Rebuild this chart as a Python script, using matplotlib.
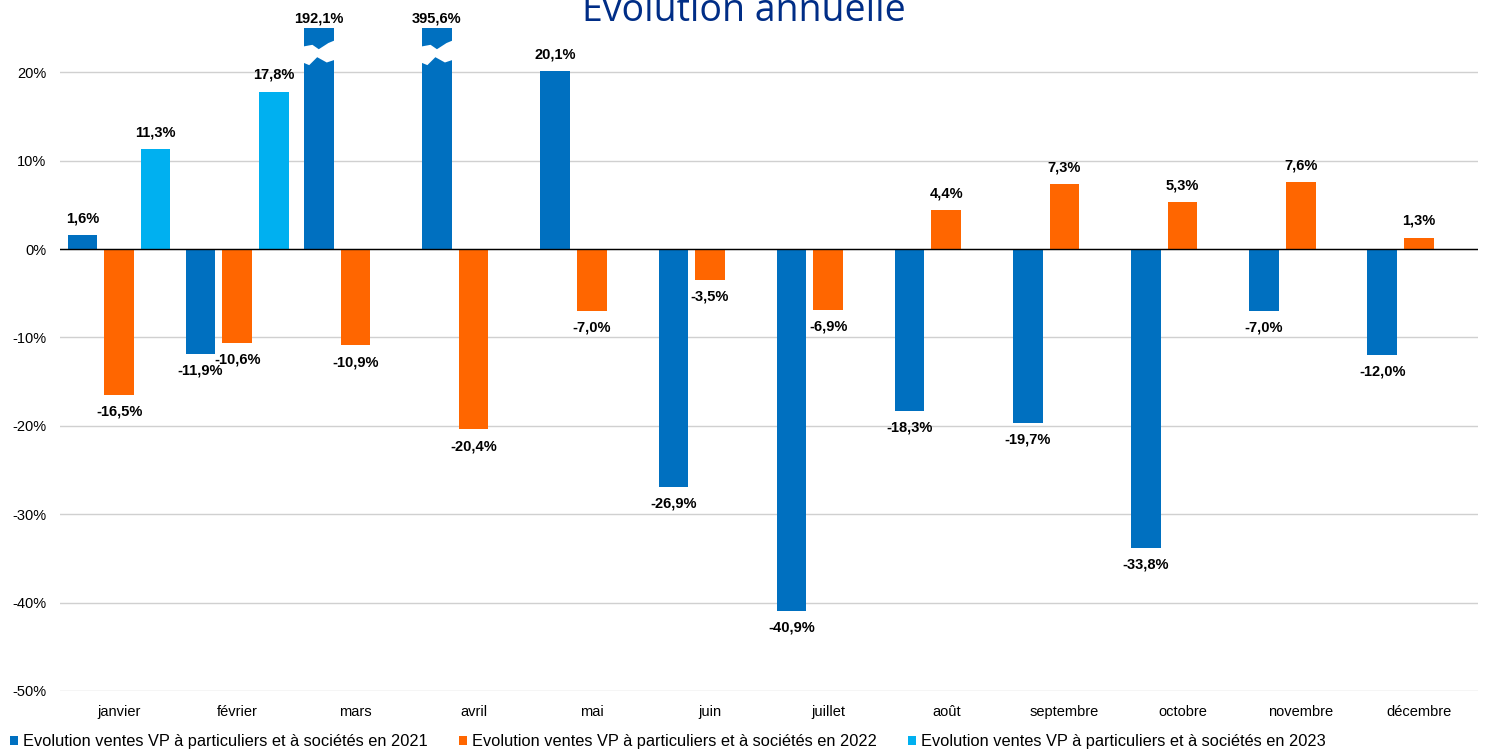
import numpy as np
import matplotlib.pyplot as plt

# données
mois = ['janvier', 'février', 'mars', 'avril', 'mai', 'juin', 'juillet',
        'août', 'septembre', 'octobre', 'novembre', 'décembre']
evol_2021 = [1.6, -11.9, 192.1, 395.6, 20.1, -26.9, -40.9, -18.3, -19.7, -33.8, -7.0, -12.0]
evol_2022 = [-16.5, -10.6, -10.9, -20.4, -7.0, -3.5, -6.9, 4.4, 7.3, 5.3, 7.6, 1.3]
evol_2023 = [11.3, 17.8]
noms = ['Evolution ventes VP à particuliers et à sociétés en 2021',
        'Evolution ventes VP à particuliers et à sociétés en 2022',
        'Evolution ventes VP à particuliers et à sociétés en 2023']
couleurs = ['#0070C0', '#FF6600', '#00B0F0']

plt.rcParams['font.family'] = ['Liberation Sans Narrow', 'Liberation Sans', 'DejaVu Sans']

YMAX = 25
w = 0.25
dx = 0.31

fig = plt.figure(figsize=(14.89, 7.51), dpi=100)
ax = fig.add_axes([0.0403, 0.0799, 0.9523, 0.8828])

x = np.arange(len(mois))
series = [evol_2021, evol_2022, evol_2023]
for k, (vals, c, nom) in enumerate(zip(series, couleurs, noms)):
    xs = x[:len(vals)] + (k - 1) * dx
    vals = np.array(vals)
    ax.bar(xs, np.minimum(vals, YMAX), width=w, color=c, label=nom, zorder=3)
    for xi, v in zip(xs, vals):
        txt = ('%.1f%%' % v).replace('.', ',')
        if v > YMAX:
            ax.text(xi, YMAX + 0.3, txt, ha='center', va='bottom',
                    fontsize=10.5, fontweight='bold', family=['Liberation Sans', 'DejaVu Sans'],
                    clip_on=False)
        elif v >= 0:
            ax.text(xi, v + 1.1, txt, ha='center', va='bottom',
                    fontsize=10.5, fontweight='bold', family=['Liberation Sans', 'DejaVu Sans'],
                    clip_on=False)
        else:
            ax.text(xi, v - 1.1, txt, ha='center', va='top',
                    fontsize=10.5, fontweight='bold', family=['Liberation Sans', 'DejaVu Sans'])
        # coupure pour les barres hors échelle
        if v > YMAX:
            x0 = xi - w / 2 - 0.01
            x1 = xi + w / 2 + 0.01
            ww = x1 - x0
            top = [(x0, 22.9), (x0 + 0.3 * ww, 23.1), (x0 + 0.5 * ww, 22.6),
                   (x0 + 0.8 * ww, 23.3), (x1, 23.6)]
            bot = [(x1, 21.4), (x0 + 0.75 * ww, 21.1), (x0 + 0.45 * ww, 21.7),
                   (x0 + 0.2 * ww, 20.8), (x0, 21.1)]
            pts = np.array(top + bot)
            ax.fill(pts[:, 0], pts[:, 1], color='white', zorder=4, lw=0)

ax.set_xlim(-0.5, len(mois) - 0.5)
ax.set_ylim(-50, YMAX)
ax.set_yticks(np.arange(-50, 21, 10))
ax.set_yticklabels(['%d%%' % t for t in np.arange(-50, 21, 10)], fontsize=10.5)
ax.set_xticks(x)
ax.set_xticklabels(mois, fontsize=10.5)
ax.tick_params(length=0)
ax.tick_params(axis='x', pad=10)
ax.tick_params(axis='y', pad=10)
ax.yaxis.grid(True, color='#D0D0D0', lw=1, zorder=0)
ax.axhline(0, color='black', lw=1, zorder=5)
for s in ax.spines.values():
    s.set_visible(False)

fig.text(0.4995, 0.972, 'Evolution annuelle', ha='center', va='baseline',
         fontsize=27, color='#002D86', family=['Open Sans', 'DejaVu Sans'])

fig.legend(loc='lower left', bbox_to_anchor=(0.0, -0.011), ncol=3, frameon=False,
           fontsize=11.8, handlelength=0.5, handleheight=0.5, handletextpad=0.3,
           columnspacing=1.9, borderaxespad=0.2)

fig.savefig('out.png', dpi=100)
